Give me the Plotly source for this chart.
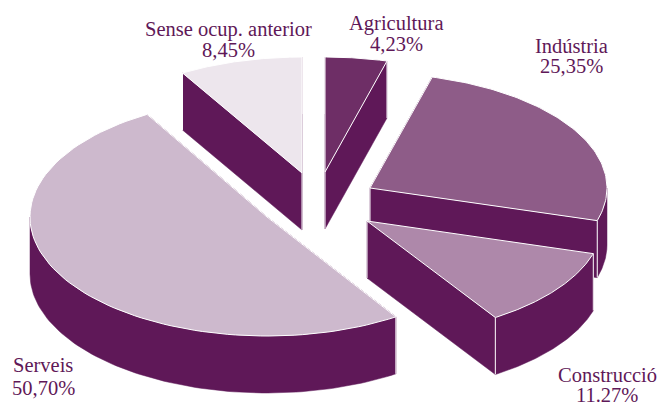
import math
import plotly.graph_objects as go

categories = ["Agricultura", "Indústria", "Construcció", "Serveis", "Sense ocup. anterior"]
values = [4.23, 25.35, 11.27, 50.70, 8.45]
value_labels = ["4,23%", "25,35%", "11.27%", "50,70%", "8,45%"]

# Styling and placement
top_colors = ["#6e2e66", "#8e5c88", "#ae88aa", "#cdb9cd", "#ede6ed"]
wall_color = "#5f1858"
text_color = "#5f1858"
centers = [(325, 172), (370, 188), (367, 221), (267, 217), (302, 173)]
radii = [(236, 115), (237, 115), (236, 115), (237, 119), (236, 116)]
depth = 57
draw_order = [1, 4, 0, 3, 2]
label_x = [396, 571, 607, 43, 228]
name_y = [23, 46, 375, 365, 29]
value_y = [44, 66, 395, 388, 50]

total = sum(values)
starts, ends = [], []
acc = 0.0
for v in values:
    starts.append(acc / total * 360)
    acc += v
    ends.append(acc / total * 360)


def arc(i, t0=None, t1=None, n=90):
    t0 = starts[i] if t0 is None else t0
    t1 = ends[i] if t1 is None else t1
    cx, cy = centers[i]
    rx, ry = radii[i]
    pts = []
    for k in range(n + 1):
        t = math.radians(t0 + (t1 - t0) * k / n)
        pts.append((cx + rx * math.sin(t), cy - ry * math.cos(t)))
    return pts


def poly(fig, pts, fill, line_color="white", width=1):
    xs = [p[0] for p in pts] + [pts[0][0]]
    ys = [p[1] for p in pts] + [pts[0][1]]
    fig.add_trace(go.Scatter(
        x=xs, y=ys, mode="lines", fill="toself", fillcolor=fill,
        line=dict(color=line_color, width=width), hoverinfo="skip", showlegend=False,
    ))


fig = go.Figure()
for i in draw_order:
    a = arc(i)
    c = centers[i]
    # cut faces
    for edge in (a[0], a[-1]):
        poly(fig, [c, edge, (edge[0], edge[1] + depth), (c[0], c[1] + depth)], wall_color, wall_color, 0.5)
    # outer wall: only the front half of the rim can be seen
    t0, t1 = max(starts[i], 90.0), min(ends[i], 270.0)
    if t1 > t0:
        front = arc(i, t0, t1)
        poly(fig, front + [(x, y + depth) for x, y in front][::-1], wall_color, wall_color, 0.5)
    # white corner edges, then top surface
    for edge in (a[0], a[-1], c):
        fig.add_trace(go.Scatter(
            x=[edge[0], edge[0]], y=[edge[1], edge[1] + depth], mode="lines",
            line=dict(color="white", width=1), hoverinfo="skip", showlegend=False,
        ))
    poly(fig, [c] + a, top_colors[i])

for name, lab, x, y1, y2 in zip(categories, value_labels, label_x, name_y, value_y):
    for txt, y in ((name, y1), (lab, y2)):
        fig.add_annotation(
            x=x, y=y, xref="x", yref="y", text=txt, showarrow=False,
            xanchor="center", yanchor="middle", align="center",
            font=dict(family="Liberation Serif", size=20.5, color=text_color),
        )

fig.update_layout(
    width=660, height=404, margin=dict(l=0, r=0, t=0, b=0),
    paper_bgcolor="white", plot_bgcolor="white", showlegend=False,
    xaxis=dict(range=[0, 660], visible=False, fixedrange=True),
    yaxis=dict(range=[404, 0], visible=False, fixedrange=True),
)
fig.write_html(
    "out.html",
    config={"displayModeBar": False},
    post_script="document.body.style.margin='0';document.body.style.overflow='hidden';",
)
